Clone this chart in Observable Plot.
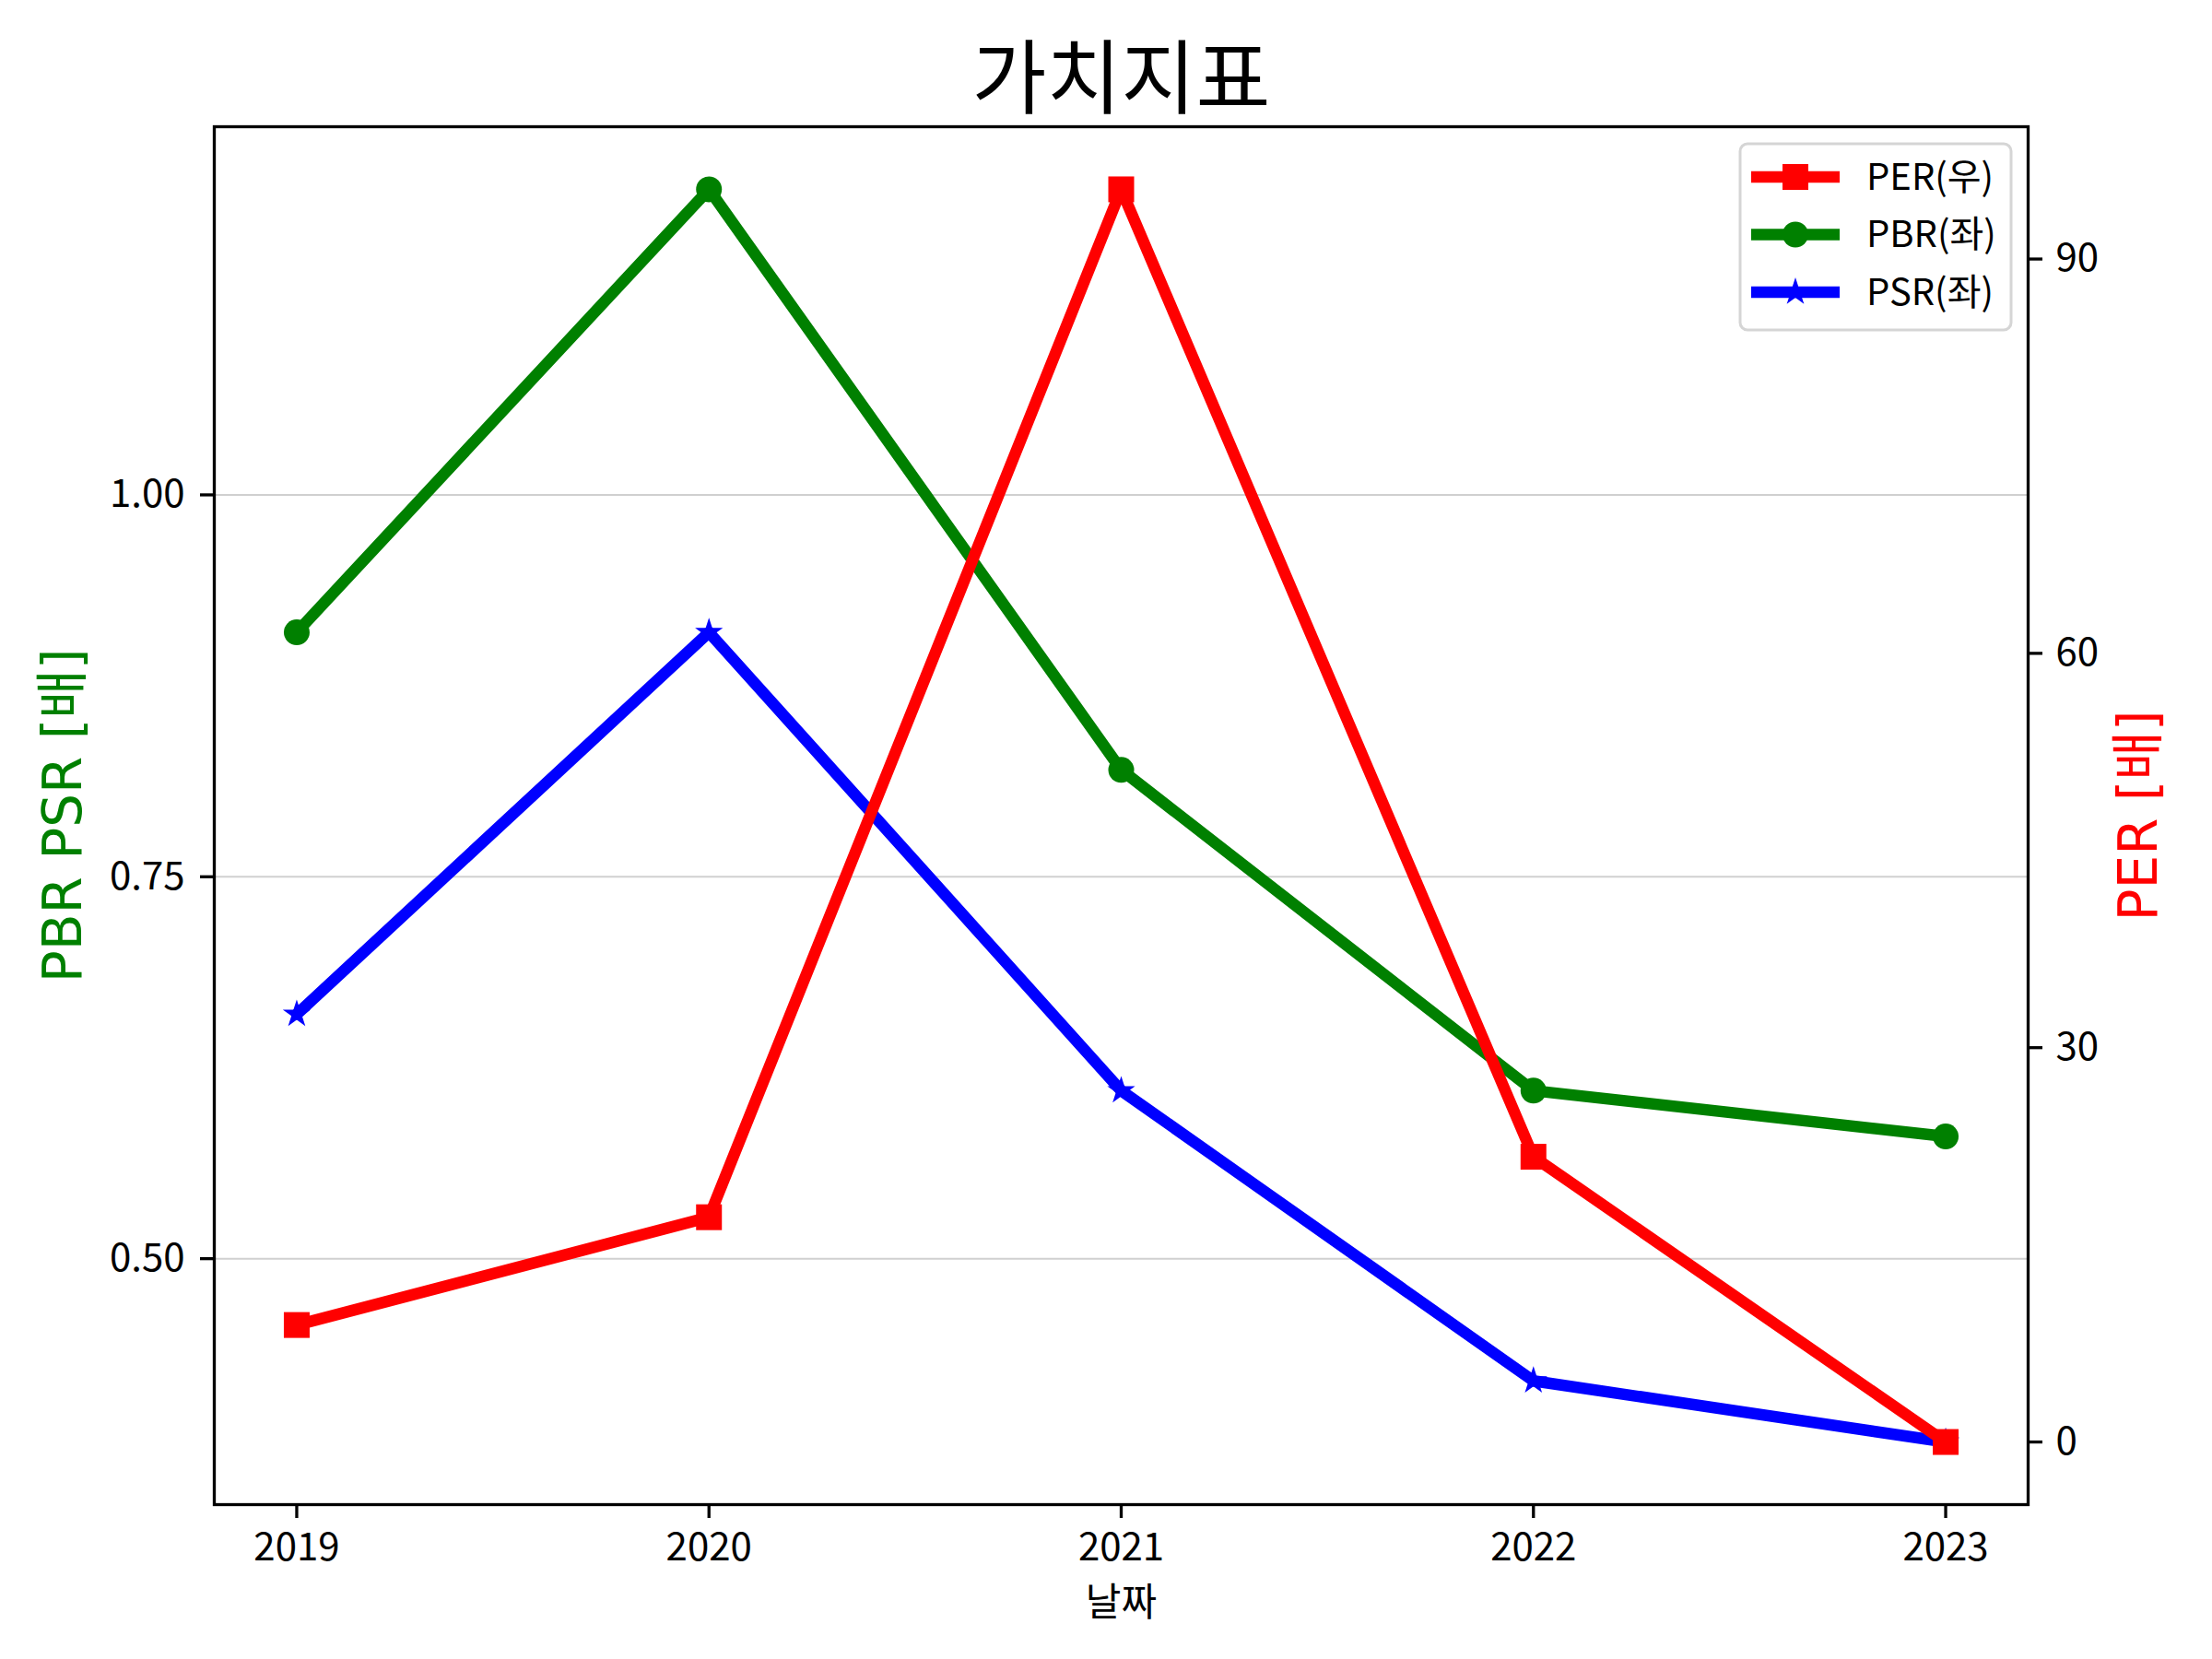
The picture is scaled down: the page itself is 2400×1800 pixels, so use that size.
<!DOCTYPE html>
<html>
<head>
<meta charset="utf-8">
<script src="https://cdn.jsdelivr.net/npm/d3@7"></script>
<script src="https://cdn.jsdelivr.net/npm/@observablehq/plot@0.6"></script>
<style>
  html, body { margin: 0; padding: 0; background: #fff; }
  #chart svg { display: block; }
</style>
</head>
<body>
<div id="chart"></div>
<script>
// ---- data ----
const years = [2019, 2020, 2021, 2022, 2023];
const pbr = [0.91, 1.20, 0.82, 0.61, 0.58];
const psr = [0.66, 0.91, 0.61, 0.42, 0.38];
const per = [8.9, 17.1, 95.3, 21.7, 0.0];
const leftTicks = [0.50, 0.75, 1.00];
const rightTicks = [0, 30, 60, 90];
const titleText = "가치지표";
const xLabel = "날짜";
const leftLabel = "PBR PSR [배]";
const rightLabel = "PER [배]";
const legendLabels = ["PER(우)", "PBR(좌)", "PSR(좌)"];

const FONT = "'Noto Sans CJK KR', 'Noto Sans', sans-serif";
const LABEL_FONT = "'DejaVu Sans', 'Noto Sans CJK KR', sans-serif";
const RED = "#ff0000", GREEN = "#008000", BLUE = "#0000ff";

// matplotlib-style 5% margins
function padded(vals) {
  const lo = d3.min(vals), hi = d3.max(vals), m = (hi - lo) * 0.05;
  return [lo - m, hi + m];
}
const xDom = padded(years);
const leftDom = padded([...pbr, ...psr]);
const rightDom = padded(per);
// map PER (right axis) values onto the left-axis value space
const toLeft = d3.scaleLinear().domain(rightDom).range(leftDom);

const rows = (vals, key) => years.map((y, i) => ({year: y, value: vals[i], key}));
const pbrRows = rows(pbr, "PBR");
const psrRows = rows(psr, "PSR");
const perRows = years.map((y, i) => ({year: y, value: toLeft(per[i]), key: "PER"}));

const W = 2400, H = 1800;
const mL = 232, mR = 200, mT = 137, mB = 168;
const LW = 12.5;
const STAR_R = 9.5;

const chart = Plot.plot({
  width: W,
  height: H,
  marginLeft: mL,
  marginRight: mR,
  marginTop: mT,
  marginBottom: mB,
  style: {fontFamily: FONT, fontSize: "42px", background: "#fff", color: "#000"},
  x: {domain: xDom, range: [mL, W - mR]},
  y: {domain: leftDom, range: [H - mB, mT]},
  marks: [
    Plot.gridY(leftTicks, {stroke: "#d0d0d0", strokeOpacity: 1, strokeWidth: 2}),
    Plot.line(pbrRows, {x: "year", y: "value", stroke: GREEN, strokeWidth: LW, strokeLinejoin: "round"}),
    Plot.dot(pbrRows, {x: "year", y: "value", symbol: "circle", r: 14, fill: GREEN, stroke: null}),
    Plot.line(psrRows, {x: "year", y: "value", stroke: BLUE, strokeWidth: LW, strokeLinejoin: "round"}),
    Plot.dot(psrRows, {x: "year", y: "value", symbol: "star", r: STAR_R, fill: BLUE, stroke: null}),
    Plot.line(perRows, {x: "year", y: "value", stroke: RED, strokeWidth: LW, strokeLinejoin: "round"}),
    Plot.dot(perRows, {x: "year", y: "value", symbol: "square", r: 15.8, fill: RED, stroke: null}),
    Plot.frame({stroke: "#000", strokeWidth: 3.3}),
    Plot.axisX(years, {tickFormat: "d", tickSize: 15, tickPadding: 16, strokeWidth: 3.3, fontSize: 42, label: null}),
    Plot.axisY(leftTicks, {anchor: "left", tickFormat: d3.format(".2f"), tickSize: 15, tickPadding: 17, strokeWidth: 3.3, fontSize: 42, label: null}),
    Plot.axisY(rightTicks.map(toLeft), {anchor: "right", tickFormat: d => String(Math.round(toLeft.invert(d))), tickSize: 15, tickPadding: 15, strokeWidth: 3.3, fontSize: 42, label: null}),
    Plot.text([titleText], {frameAnchor: "top", textAnchor: "middle", lineAnchor: "bottom", dy: -22, fontSize: 88, fill: "#000"}),
    Plot.text([xLabel], {frameAnchor: "bottom", textAnchor: "middle", lineAnchor: "bottom", dy: 120, fontSize: 42, fill: "#000"}),
    Plot.text([leftLabel], {frameAnchor: "left", textAnchor: "middle", dx: -163, rotate: -90, fontSize: 58, fontFamily: LABEL_FONT, fill: GREEN}),
    Plot.text([rightLabel], {frameAnchor: "right", textAnchor: "middle", dx: 121, rotate: -90, fontSize: 58, fontFamily: LABEL_FONT, fill: RED})
  ]
});

// ---- legend (upper right, matplotlib style) ----
const svg = d3.select(chart);
const lg = svg.append("g").attr("font-family", FONT).attr("font-size", 40).attr("text-anchor", "start");
const boxX = 1888, boxY = 156, boxW = 294, boxH = 202;
lg.append("rect")
  .attr("x", boxX).attr("y", boxY).attr("width", boxW).attr("height", boxH)
  .attr("rx", 8).attr("ry", 8)
  .attr("fill", "#fff").attr("fill-opacity", 0.8)
  .attr("stroke", "#d5d5d5").attr("stroke-width", 3);
const legendItems = [
  {label: legendLabels[0], color: RED, sym: d3.symbolSquare, r: 15.8},
  {label: legendLabels[1], color: GREEN, sym: d3.symbolCircle, r: 14},
  {label: legendLabels[2], color: BLUE, sym: d3.symbolStar, r: STAR_R}
];
legendItems.forEach((it, i) => {
  const cy = 192 + i * 62.5;
  lg.append("line").attr("x1", 1900).attr("x2", 1996).attr("y1", cy).attr("y2", cy)
    .attr("stroke", it.color).attr("stroke-width", LW);
  lg.append("path").attr("transform", `translate(1948,${cy})`)
    .attr("d", d3.symbol(it.sym, Math.PI * it.r * it.r)())
    .attr("fill", it.color);
  lg.append("text").attr("x", 2025).attr("y", cy).attr("dy", "0.34em")
    .attr("text-anchor", "start")
    .attr("fill", "#000").text(it.label);
});

document.getElementById("chart").appendChild(chart);
</script>
</body>
</html>
